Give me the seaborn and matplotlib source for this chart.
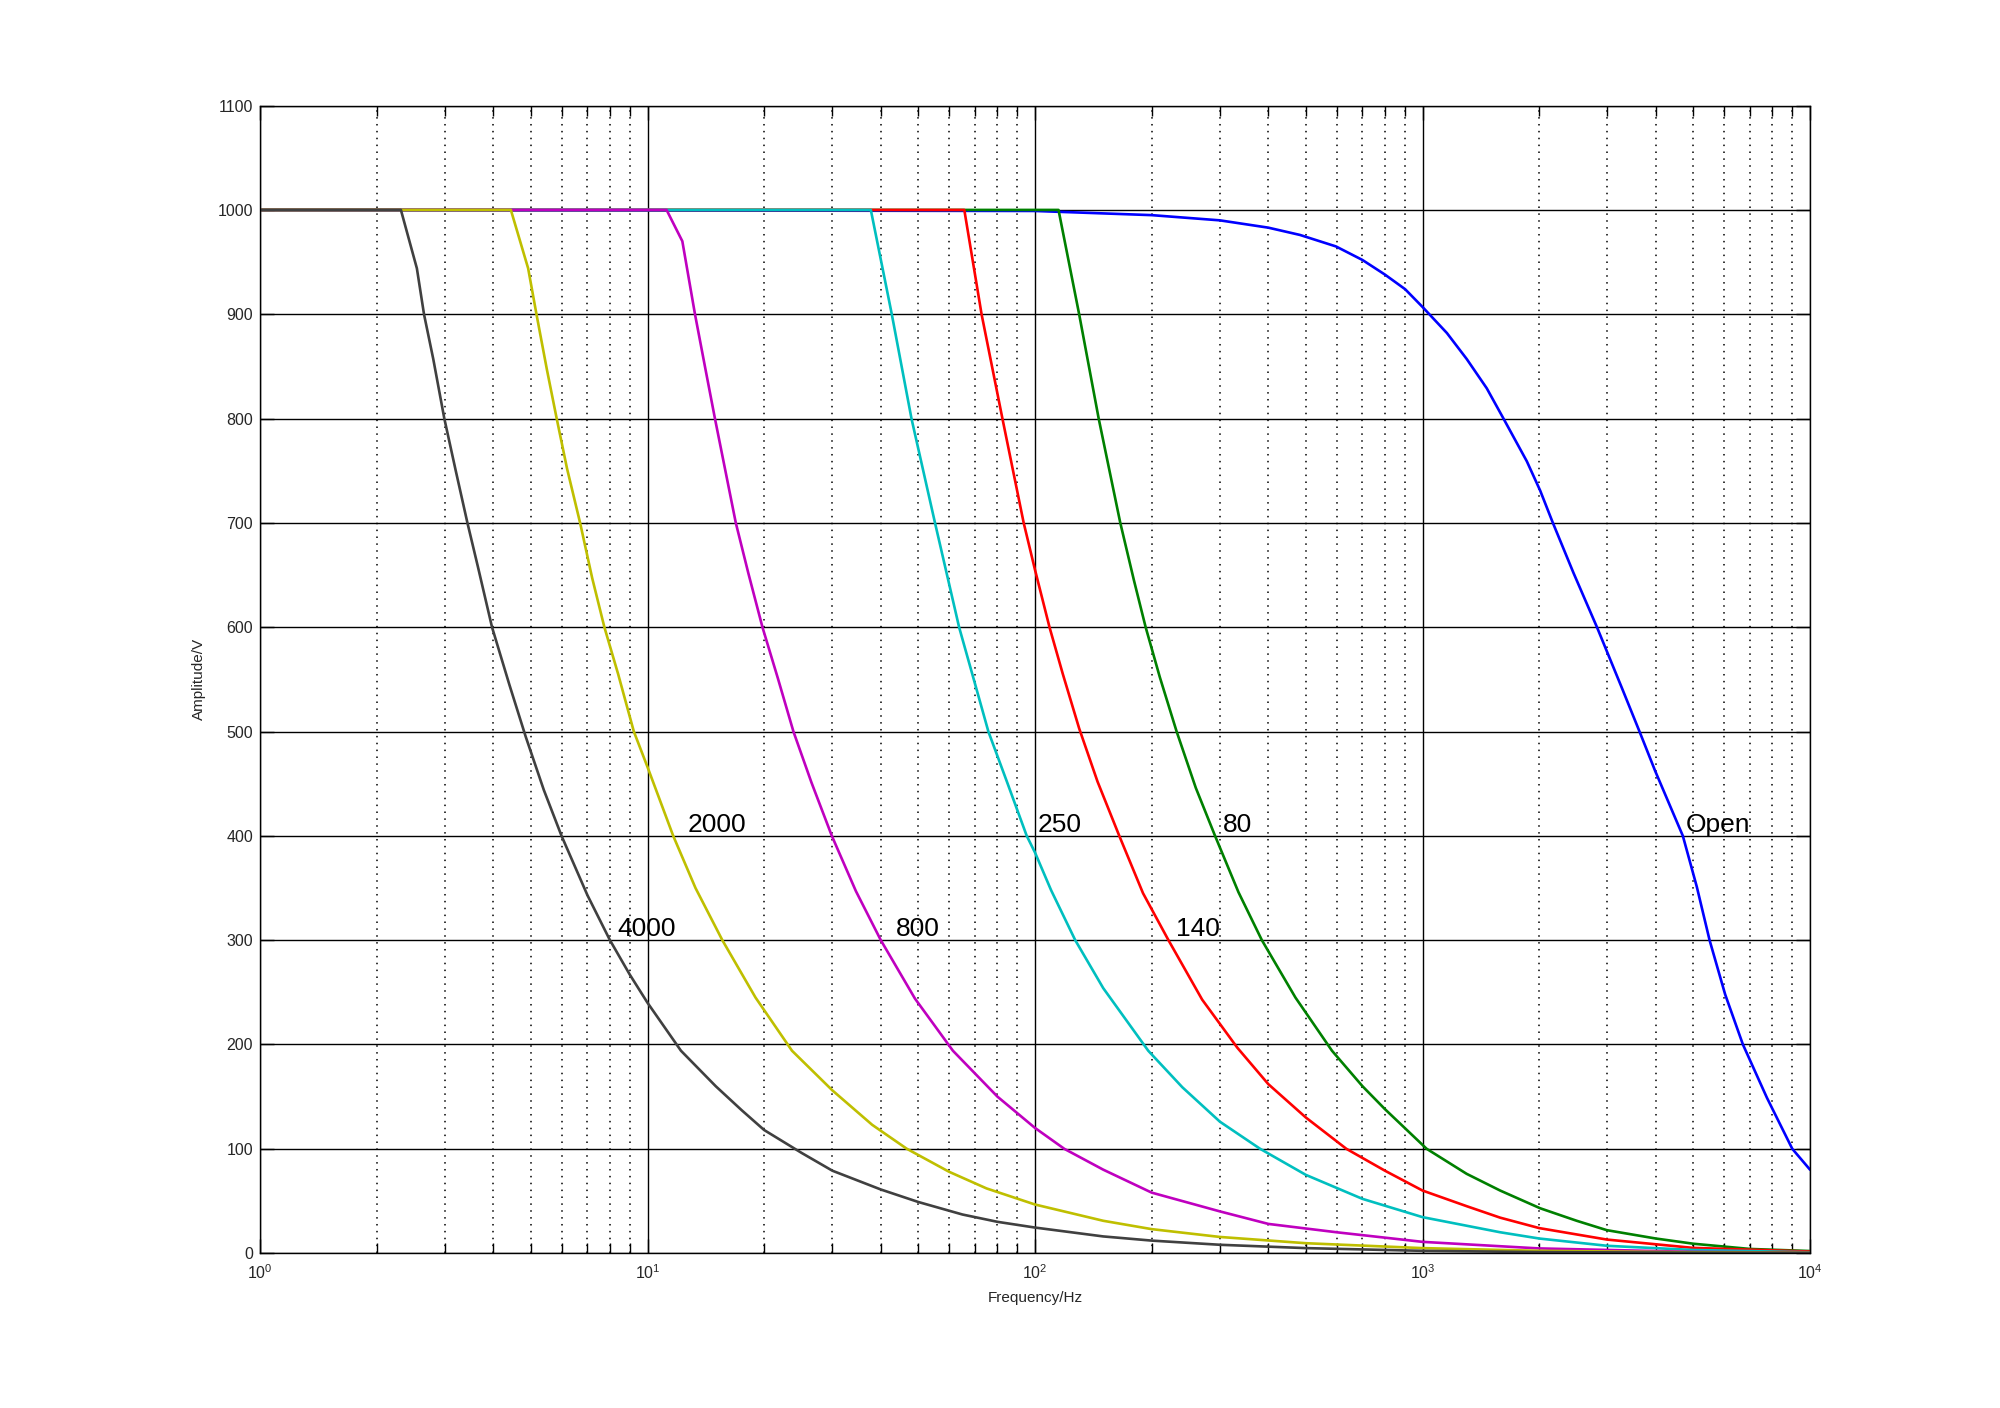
import numpy as np
import pandas as pd
import matplotlib
matplotlib.use("Agg")
import matplotlib.pyplot as plt
import seaborn as sns
from matplotlib.ticker import LogLocator, NullLocator, FixedLocator

# ---------------- data ----------------
blue_f = [1, 100, 200, 300, 400, 483, 598, 700, 800, 902, 1000, 1156, 1301, 1465, 1618, 1859,
          2012, 2170, 2453, 2820, 3268, 3631, 3987, 4697, 5105, 5506, 6040, 6712, 7740, 9000, 10000]
blue_a = [1000, 999, 995, 990, 983, 976, 965, 952, 938, 924, 907, 882, 857, 829, 800, 759,
          731, 700, 652, 600, 542, 500, 462, 400, 351, 300, 248, 200, 149, 100, 80]

green_f = [1, 115, 130, 146, 166, 180, 193, 210, 232, 260, 291.5, 335, 385, 470, 584, 700, 800,
           1025, 1300, 1586, 2012, 2500, 2990, 4000, 5000, 7000, 10000]
green_a = [1000, 1000, 900, 800, 700, 645, 600, 552, 500, 446, 400, 346, 300, 245, 194, 160, 138,
           100, 76, 60, 43, 31, 22, 14, 9, 4, 2]

red_f = [1, 65.7, 72.8, 82.4, 93.5, 100, 109, 118, 130, 145, 165, 190, 221, 270, 332.6, 400, 500,
         636, 800, 1000, 1300, 1586, 2000, 2990, 5000, 10000]
red_a = [1000, 1000, 900, 800, 700, 655, 600, 555, 503, 452, 400, 345, 300, 243, 197, 162, 130,
         100, 79, 60, 45, 34, 24, 13, 5, 1.5]

cyan_f = [1, 37.7, 42.7, 48.0, 55.2, 63.7, 69.5, 75.8, 85, 95.2, 100, 110, 127, 150, 196, 240, 300,
          381, 500, 700, 1000, 1586, 2000, 3000, 5000, 10000]
cyan_a = [1000, 1000, 900, 800, 700, 600, 550, 500, 450, 400, 384, 348, 300, 254, 194, 159, 126,
          100, 75, 52, 34.5, 20, 14, 7, 3, 0.8]

magenta_f = [1, 11.2, 12.3, 13.26, 14.1, 14.93, 16.9, 18.2, 19.8, 21.7, 23.8, 26.5, 29.9, 34.5, 40,
             49, 61.4, 80, 100, 119, 150, 200, 300, 400, 600, 1000, 2000, 5000, 10000]
magenta_a = [1000, 1000, 970, 900, 848, 800, 700, 652, 600, 551, 500, 451, 400, 347, 300,
             244, 194, 150, 120, 100, 80, 58, 40, 28, 20, 10.8, 4.5, 1.2, 0.4]

yellow_f = [1, 4.44, 4.92, 5.17, 5.5, 5.83, 6.2, 6.70, 7.2, 7.74, 8.4, 9.22, 10, 11.65, 13.3, 15.6,
            19, 23.6, 30, 38, 46.7, 60, 75, 100, 150, 200, 300, 500, 1000, 2000, 5000, 10000]
yellow_a = [1000, 1000, 944, 900, 847, 800, 752, 700, 647, 600, 555, 500, 466, 400, 350, 300,
            245, 194, 156, 123, 100, 78, 62, 46.6, 31, 23, 15.5, 9.5, 4.8, 2.2, 0.8, 0.3]

black_f = [1, 2.31, 2.54, 2.65, 2.8, 2.99, 3.2, 3.43, 3.65, 3.97, 4.4, 4.85, 5.4, 6.0, 7.0, 8.0, 9.0,
           10, 12.2, 15, 17.5, 20, 25, 30, 40, 50, 65, 80, 100, 150, 200, 300, 500, 1000, 2000,
           5000, 10000]
black_a = [1000, 1000, 944, 900, 857, 800, 750, 700, 658, 600, 545, 495, 444, 400, 343, 300, 267,
           240, 194, 160, 137, 118, 96, 79, 61, 49, 37, 30, 24.5, 16, 12, 8, 4.8, 2.2, 1.0,
           0.4, 0.2]

series_names = ["Open", "80", "140", "250", "800", "2000", "4000"]
series_colors = ["#0000FF", "#008000", "#FF0000", "#00BFBF", "#BF00BF", "#BFBF00", "#404040"]

label_text = ["2000", "4000", "800", "250", "80", "140", "Open"]
label_f = [12.7, 8.35, 43.7, 101.6, 305, 231, 4783]
label_a = [400, 300, 300, 400, 400, 300, 400]

y_ticks = [0, 100, 200, 300, 400, 500, 600, 700, 800, 900, 1000, 1100]

# ---------------- build table ----------------
all_f = [blue_f, green_f, red_f, cyan_f, magenta_f, yellow_f, black_f]
all_a = [blue_a, green_a, red_a, cyan_a, magenta_a, yellow_a, black_a]
frames = []
for name, f, a in zip(series_names, all_f, all_a):
    frames.append(pd.DataFrame({"Frequency": f, "Amplitude": a, "series": name}))
df = pd.concat(frames, ignore_index=True)

# ---------------- style ----------------
sns.set_style("white")
plt.rcParams["font.family"] = ["Liberation Sans", "DejaVu Sans"]
plt.rcParams["mathtext.fontset"] = "custom"
plt.rcParams["mathtext.rm"] = "Liberation Sans"
plt.rcParams["mathtext.it"] = "Liberation Sans:italic"
plt.rcParams["mathtext.bf"] = "Liberation Sans:bold"

fig = plt.figure(figsize=(20, 14.08), dpi=100)
ax = fig.add_axes([0.13, 0.11, 0.775, 0.815])

sns.lineplot(data=df, x="Frequency", y="Amplitude", hue="series", hue_order=series_names,
             palette=series_colors, estimator=None, sort=False, units="series",
             linewidth=1.9, legend=False, ax=ax)

ax.set_xscale("log")
ax.set_xlim(1, 1e4)
ax.set_ylim(0, 1100)
ax.yaxis.set_major_locator(FixedLocator(y_ticks))
ax.yaxis.set_minor_locator(NullLocator())
ax.xaxis.set_major_locator(LogLocator(base=10, numticks=10))
ax.xaxis.set_minor_locator(LogLocator(base=10, subs=np.arange(2, 10), numticks=20))

ax.set_axisbelow(True)
ax.grid(which="major", axis="both", color="black", linestyle="-", linewidth=1.0)
ax.grid(which="minor", axis="x", color="black", linestyle=(0, (1, 3.5)), linewidth=1.1)

for sp in ax.spines.values():
    sp.set_color("black")
    sp.set_linewidth(1.0)
    sp.set_visible(True)

ax.tick_params(which="both", direction="in", top=True, right=True, bottom=True, left=True,
               color="black", width=1.0)
ax.tick_params(which="major", length=10, labelsize=11.5, pad=5)
ax.tick_params(which="minor", length=7)
ax.tick_params(axis="x", which="major", pad=7)

ax.set_xlabel("Frequency/Hz", fontsize=11, labelpad=7)
ax.set_ylabel("Amplitude/V", fontsize=11, labelpad=8)

for t, f, a in zip(label_text, label_f, label_a):
    ax.text(f, a + 4, t, fontsize=19, ha="left", va="baseline", color="black")

fig.savefig("out.png", dpi=100, facecolor="white")
